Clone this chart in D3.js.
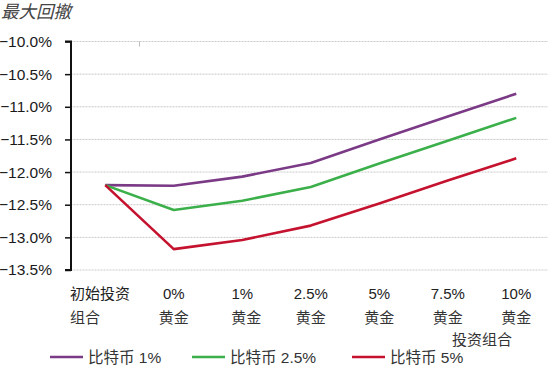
<!DOCTYPE html>
<html><head><meta charset="utf-8">
<script src="https://cdn.jsdelivr.net/npm/d3@7"></script>
<style>
html,body{margin:0;padding:0;background:#fff;}
text{font-family:"Liberation Sans","Noto Sans CJK SC",sans-serif;}
</style></head>
<body><svg id="c" width="554" height="368"></svg>
<script>
const categories = ["初始投资组合","0%黄金","1%黄金","2.5%黄金","5%黄金","7.5%黄金","10%黄金"];
const catLine1 = ["初始投资","0%","1%","2.5%","5%","7.5%","10%"];
const catLine2 = ["组合","黄金","黄金","黄金","黄金","黄金","黄金"];
const extraLabel = "投资组合";
const seriesNames = ["比特币 1%","比特币 2.5%","比特币 5%"];
const btc1 = [-12.20,-12.21,-12.07,-11.86,-11.50,-11.15,-10.80];
const btc25 = [-12.20,-12.58,-12.44,-12.23,-11.87,-11.52,-11.17];
const btc5 = [-12.20,-13.18,-13.04,-12.82,-12.48,-12.13,-11.79];
const yTicks = [-10.0,-10.5,-11.0,-11.5,-12.0,-12.5,-13.0,-13.5];
const colors = ["#7b3a86","#3bb04a","#c4122f"];
const title = "最大回撤";

const svg = d3.select("#c");
const x = d3.scaleBand().domain(categories).range([71,550.5]);
const y = d3.scaleLinear().domain([-13.5,-10.0]).range([270,41.5]);

// gridlines
svg.append("g").selectAll("line").data(yTicks).join("line")
  .attr("x1",71).attr("x2",548).attr("y1",d=>y(d)).attr("y2",d=>y(d))
  .attr("stroke","#c8c8c8").attr("stroke-width",1).attr("stroke-dasharray","1,0.5");

// small top tick
svg.append("line").attr("x1",x(categories[1])).attr("x2",x(categories[1]))
  .attr("y1",y(-10.0)).attr("y2",y(-10.0)+5).attr("stroke","#bbb").attr("stroke-width",1);

// y axis
const yAxis = d3.axisLeft(y).tickValues(yTicks).tickSize(6).tickPadding(4)
  .tickFormat(d=>d3.format(".1f")(d)+"%");
const ga = svg.append("g").attr("transform","translate(71,0)").call(yAxis);
ga.select(".domain").attr("stroke","#111").attr("stroke-width",2).attr("d","M-6,"+y(-10)+"H0V"+y(-13.5)+"H-6");
ga.selectAll(".tick line").attr("stroke","#111").attr("stroke-width",1.5);
ga.selectAll(".tick text").attr("font-size",15.5).attr("fill","#1a1a1a").attr("x",-19);

// lines
const line = d3.line().x((d,i)=>x(categories[i])+x.bandwidth()/2).y(d=>y(d));
[btc1,btc25,btc5].forEach((s,i)=>{
  svg.append("path").datum(s).attr("d",line).attr("fill","none")
    .attr("stroke",colors[i]).attr("stroke-width",2.6).attr("stroke-linejoin","round");
});

// x labels
const xl = svg.append("g").attr("font-size",15).attr("fill","#333");
categories.forEach((c,i)=>{
  const cx = x(c)+x.bandwidth()/2;
  const first = i===0;
  xl.append("text").attr("x", first?70:cx).attr("y",299).attr("text-anchor",first?"start":"middle").attr("fill","#222").text(catLine1[i]);
  xl.append("text").attr("x", first?70:cx+ (i===2?4:0)).attr("y",323).attr("text-anchor",first?"start":"middle").attr("fill","#333").text(catLine2[i]);
});
xl.append("text").attr("x",(x(categories[5])+x(categories[6]))/2+x.bandwidth()/2).attr("y",345)
  .attr("text-anchor","middle").attr("fill","#333").text(extraLabel);

// title
svg.append("text").attr("x",1).attr("y",18).attr("font-size",17.5).attr("font-style","italic")
  .attr("fill","#444").text(title);

// legend
const legX = [50,192,352];
seriesNames.forEach((n,i)=>{
  svg.append("line").attr("x1",legX[i]).attr("x2",legX[i]+33).attr("y1",357).attr("y2",357)
    .attr("stroke",colors[i]).attr("stroke-width",2.6);
  svg.append("text").attr("x",legX[i]+38).attr("y",363).attr("font-size",15.5).attr("fill","#333").text(n);
});
</script></body></html>
